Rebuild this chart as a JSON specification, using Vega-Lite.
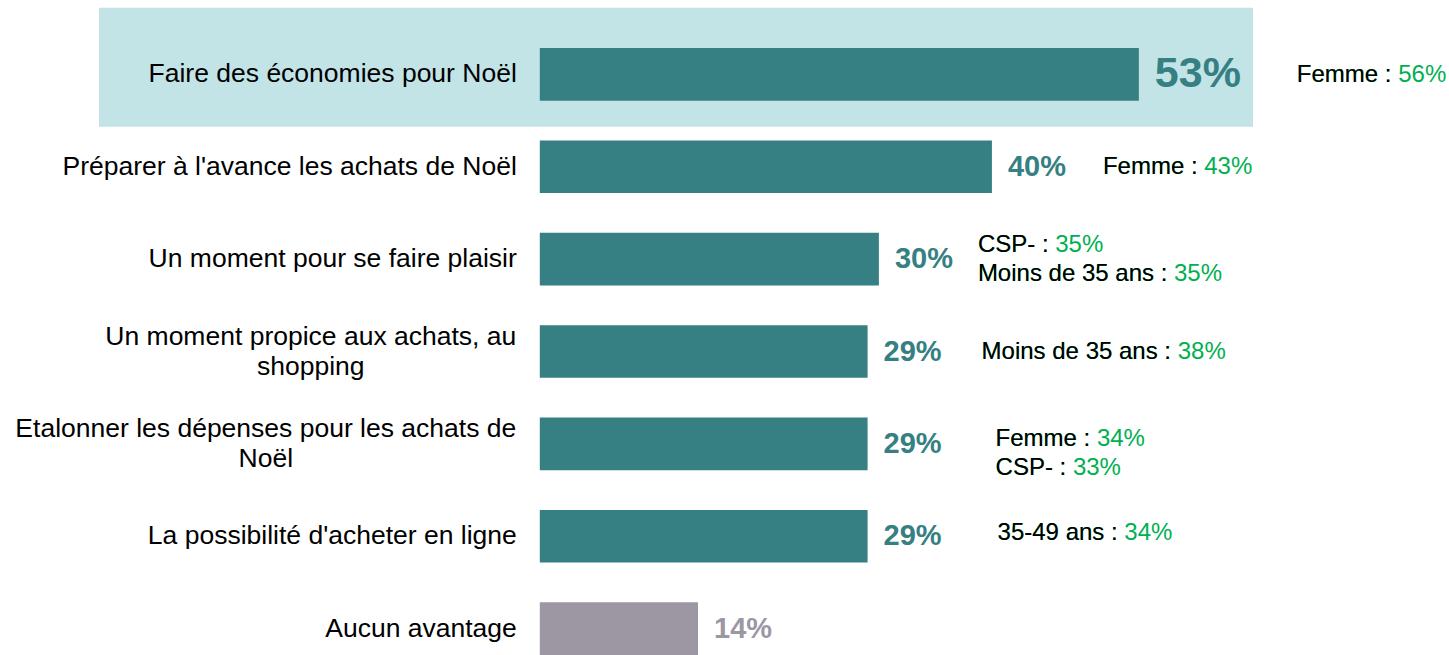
{
  "$schema": "https://vega.github.io/schema/vega-lite/v6.json",
  "width": 1154,
  "height": 607,
  "autosize": {"type": "none"},
  "padding": {"left": 99, "right": 196, "top": 48, "bottom": 0},
  "background": "white",
  "config": {
    "view": {"stroke": null},
    "text": {"font": "Liberation Sans"},
    "style": {
      "note": {"align": "left", "baseline": "middle", "fontSize": 24, "lineBreak": "\n", "lineHeight": 29}
    }
  },
  "data": {
    "values": [
      {"cat": "Faire des économies pour Noël", "label": "Faire des économies pour Noël", "value": 53, "group": "avantage", "highlight": true, "note": "Femme : 56%", "notePrefix": "Femme :"},
      {"cat": "Préparer à l'avance les achats de Noël", "label": "Préparer à l'avance les achats de Noël", "value": 40, "group": "avantage", "highlight": false, "note": "Femme : 43%", "notePrefix": "Femme :"},
      {"cat": "Un moment pour se faire plaisir", "label": "Un moment pour se faire plaisir", "value": 30, "group": "avantage", "highlight": false, "note": "CSP- : 35%\nMoins de 35 ans : 35%", "notePrefix": "CSP- :\nMoins de 35 ans :"},
      {"cat": "Un moment propice aux achats, au shopping", "label": "Un moment propice aux achats, au\nshopping", "value": 29, "group": "avantage", "highlight": false, "note": "Moins de 35 ans : 38%", "notePrefix": "Moins de 35 ans :"},
      {"cat": "Etalonner les dépenses pour les achats de Noël", "label": "Etalonner les dépenses pour les achats de\nNoël", "value": 29, "group": "avantage", "highlight": false, "note": "Femme : 34%\nCSP- : 33%", "notePrefix": "Femme :\nCSP- :"},
      {"cat": "La possibilité d'acheter en ligne", "label": "La possibilité d'acheter en ligne", "value": 29, "group": "avantage", "highlight": false, "note": "35-49 ans : 34%", "notePrefix": "35-49 ans :"},
      {"cat": "Aucun avantage", "label": "Aucun avantage", "value": 14, "group": "aucun", "highlight": false, "note": "", "notePrefix": ""}
    ]
  },
  "encoding": {
    "y": {"field": "cat", "type": "nominal", "sort": null, "axis": null, "scale": {"paddingInner": 0.43, "paddingOuter": 0}}
  },
  "layer": [
    {
      "transform": [{"filter": "datum.highlight"}],
      "mark": {"type": "bar", "height": 119, "yOffset": -7, "color": "#C2E4E6"},
      "encoding": {"x": {"value": 0}, "x2": {"value": "width"}}
    },
    {
      "mark": {"type": "bar"},
      "encoding": {
        "x": {"field": "value", "type": "quantitative", "scale": {"domain": [-39, 63.1], "nice": false, "zero": false}, "axis": null},
        "color": {"field": "group", "type": "nominal", "scale": {"domain": ["avantage", "aucun"], "range": ["#367F83", "#9C97A3"]}, "legend": null}
      }
    },
    {
      "transform": [{"calculate": "datum.value + '%'", "as": "pct"}],
      "mark": {"type": "text", "align": "left", "baseline": "middle", "dx": 16, "fontWeight": "bold"},
      "encoding": {
        "x": {"field": "value", "type": "quantitative"},
        "text": {"field": "pct", "type": "nominal"},
        "size": {"condition": {"test": "datum.highlight", "value": 43}, "value": 29},
        "color": {"field": "group", "type": "nominal", "legend": null}
      }
    },
    {
      "transform": [{"filter": "indexof(datum.label, '\\n') < 0"}],
      "mark": {"type": "text", "align": "right", "baseline": "middle", "dx": -23, "fontSize": 26.5, "color": "#000000"},
      "encoding": {
        "x": {"datum": 0, "type": "quantitative"},
        "text": {"field": "label", "type": "nominal"}
      }
    },
    {
      "transform": [{"filter": "datum.cat === 'Un moment propice aux achats, au shopping'"}],
      "mark": {"type": "text", "align": "center", "baseline": "middle", "dx": -229, "dy": -15, "fontSize": 26.5, "lineBreak": "\n", "lineHeight": 30, "color": "#000000"},
      "encoding": {
        "x": {"datum": 0, "type": "quantitative"},
        "text": {"field": "label", "type": "nominal"}
      }
    },
    {
      "transform": [{"filter": "datum.cat === 'Etalonner les dépenses pour les achats de Noël'"}],
      "mark": {"type": "text", "align": "center", "baseline": "middle", "dx": -274, "dy": -15, "fontSize": 26.5, "lineBreak": "\n", "lineHeight": 30, "color": "#000000"},
      "encoding": {
        "x": {"datum": 0, "type": "quantitative"},
        "text": {"field": "label", "type": "nominal"}
      }
    },
    {
      "transform": [{"filter": "datum.value === 53"}],
      "encoding": {"x": {"field": "value", "type": "quantitative"}},
      "layer": [
        {"mark": {"type": "text", "style": "note", "color": "#00B050", "dx": 158, "dy": 1}, "encoding": {"text": {"field": "note", "type": "nominal"}}},
        {"mark": {"type": "text", "style": "note", "color": "#000000", "dx": 158, "dy": 1}, "encoding": {"text": {"field": "notePrefix", "type": "nominal"}}}
      ]
    },
    {
      "transform": [{"filter": "datum.value === 40"}],
      "encoding": {"x": {"field": "value", "type": "quantitative"}},
      "layer": [
        {"mark": {"type": "text", "style": "note", "color": "#00B050", "dx": 111, "dy": 0}, "encoding": {"text": {"field": "note", "type": "nominal"}}},
        {"mark": {"type": "text", "style": "note", "color": "#000000", "dx": 111, "dy": 0}, "encoding": {"text": {"field": "notePrefix", "type": "nominal"}}}
      ]
    },
    {
      "transform": [{"filter": "datum.value === 30"}],
      "encoding": {"x": {"field": "value", "type": "quantitative"}},
      "layer": [
        {"mark": {"type": "text", "style": "note", "color": "#00B050", "dx": 99, "dy": -14}, "encoding": {"text": {"field": "note", "type": "nominal"}}},
        {"mark": {"type": "text", "style": "note", "color": "#000000", "dx": 99, "dy": -14}, "encoding": {"text": {"field": "notePrefix", "type": "nominal"}}}
      ]
    },
    {
      "transform": [{"filter": "datum.cat === 'Un moment propice aux achats, au shopping'"}],
      "encoding": {"x": {"field": "value", "type": "quantitative"}},
      "layer": [
        {"mark": {"type": "text", "style": "note", "color": "#00B050", "dx": 114, "dy": 0}, "encoding": {"text": {"field": "note", "type": "nominal"}}},
        {"mark": {"type": "text", "style": "note", "color": "#000000", "dx": 114, "dy": 0}, "encoding": {"text": {"field": "notePrefix", "type": "nominal"}}}
      ]
    },
    {
      "transform": [{"filter": "datum.cat === 'Etalonner les dépenses pour les achats de Noël'"}],
      "encoding": {"x": {"field": "value", "type": "quantitative"}},
      "layer": [
        {"mark": {"type": "text", "style": "note", "color": "#00B050", "dx": 128, "dy": -5}, "encoding": {"text": {"field": "note", "type": "nominal"}}},
        {"mark": {"type": "text", "style": "note", "color": "#000000", "dx": 128, "dy": -5}, "encoding": {"text": {"field": "notePrefix", "type": "nominal"}}}
      ]
    },
    {
      "transform": [{"filter": "datum.cat === \"La possibilité d'acheter en ligne\""}],
      "encoding": {"x": {"field": "value", "type": "quantitative"}},
      "layer": [
        {"mark": {"type": "text", "style": "note", "color": "#00B050", "dx": 130, "dy": -3}, "encoding": {"text": {"field": "note", "type": "nominal"}}},
        {"mark": {"type": "text", "style": "note", "color": "#000000", "dx": 130, "dy": -3}, "encoding": {"text": {"field": "notePrefix", "type": "nominal"}}}
      ]
    }
  ]
}
